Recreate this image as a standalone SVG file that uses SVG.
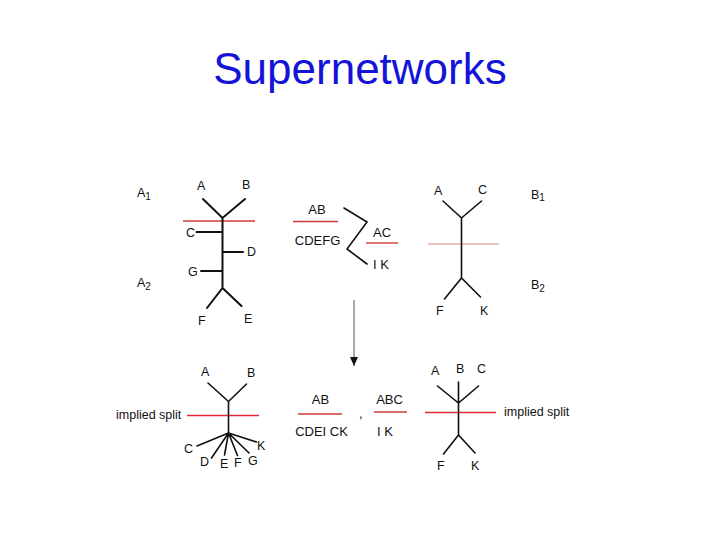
<svg xmlns="http://www.w3.org/2000/svg" width="720" height="540" viewBox="0 0 720 540">
<style>
.t{font-family:"Liberation Sans",Arial,sans-serif;font-size:12.5px;fill:#111}
.m{font-family:"Liberation Sans",Arial,sans-serif;font-size:13px;fill:#111}
.e{stroke:#111;stroke-width:1.6;fill:none;stroke-linecap:round}
.thick{stroke-width:2}
.red{stroke:#d03a3a;stroke-width:1.4}
.pink{stroke:#d88888;stroke-width:1.2}
.bred{stroke:#e02a35;stroke-width:1.6}
</style>
<defs>
<marker id="ah" markerWidth="9" markerHeight="8" refX="9" refY="4" orient="auto" markerUnits="userSpaceOnUse" viewBox="0 0 9 8">
<path d="M0,0 L9,4 L0,8 Z" fill="#111"/>
</marker>
</defs>
<rect width="720" height="540" fill="#fff"/>
<text x="360" y="84" text-anchor="middle" font-family="Liberation Sans,Arial,sans-serif" font-size="44" fill="#1414d8">Supernetworks</text>

<g id="tree-a">
<text class="t" x="137" y="197">A<tspan font-size="10" dy="3">1</tspan></text>
<text class="t" x="137" y="287">A<tspan font-size="10" dy="3">2</tspan></text>
<line class="red" x1="183" y1="221" x2="255" y2="221"/>
<path class="e thick" d="M203,199 L222.5,218 L245,199 M222.5,218 V288 M196.5,232 H222.5 M222.5,252 H243 M201,271 H222.5 M207,308 L222.5,288 L241.5,306"/>
<text class="t" x="197" y="190">A</text>
<text class="t" x="242" y="189">B</text>
<text class="t" x="186" y="237">C</text>
<text class="t" x="247" y="256">D</text>
<text class="t" x="188" y="276">G</text>
<text class="t" x="198" y="325">F</text>
<text class="t" x="244" y="323">E</text>
</g>

<g id="splits-top">
<text class="m" x="317" y="214" text-anchor="middle">AB</text>
<line class="red" x1="293" y1="221.5" x2="338" y2="221.5"/>
<text class="m" x="317.5" y="245" text-anchor="middle">CDEFG</text>
<path class="e" stroke-width="1" d="M344,208 L367,222 L347,249 L367,264"/>
<text class="m" x="382" y="237" text-anchor="middle">AC</text>
<line class="red" x1="366" y1="243" x2="398" y2="243"/>
<text class="m" x="381" y="269" text-anchor="middle">I K</text>
</g>

<g id="tree-b">
<line class="pink" x1="428" y1="244" x2="499" y2="244"/>
<path class="e" d="M443,201 L461.5,218 L481.5,201 M461.5,218 V278 M444.5,299 L461.5,278 L480.5,297"/>
<text class="t" x="434" y="195">A</text>
<text class="t" x="478" y="194">C</text>
<text class="t" x="436" y="315">F</text>
<text class="t" x="480" y="315">K</text>
<text class="t" x="531" y="199">B<tspan font-size="10" dy="2">1</tspan></text>
<text class="t" x="531" y="289">B<tspan font-size="10" dy="3">2</tspan></text>
</g>

<g id="connectors">
<line x1="354" y1="300" x2="354" y2="366" stroke="#555" stroke-width="1" marker-end="url(#ah)"/>
</g>

<g id="tree-merged-a">
<text class="t" x="116" y="419">implied split</text>
<line class="bred" x1="187" y1="415.5" x2="259" y2="415.5"/>
<path class="e" d="M208,383 L228.5,401.5 L246.5,384 M228.5,401.5 V433" />
<path class="e" stroke-width="1.2" d="M228.5,433 L197,446 M228.5,433 L211.5,458 M228.5,433 L224.5,455 M228.5,433 L237.5,455.5 M228.5,433 L249,453 M228.5,433 L256.5,442"/>
<text class="t" x="201" y="376">A</text>
<text class="t" x="247" y="377">B</text>
<text class="t" x="184" y="453">C</text>
<text class="t" x="200" y="466">D</text>
<text class="t" x="220" y="468">E</text>
<text class="t" x="234" y="467">F</text>
<text class="t" x="248" y="465">G</text>
<text class="t" x="257" y="450">K</text>
</g>

<g id="splits-bottom">
<text class="m" x="320.5" y="404" text-anchor="middle">AB</text>
<line class="red" x1="298" y1="414" x2="342" y2="414"/>
<text class="m" x="321.5" y="436" text-anchor="middle">CDEI CK</text>
<text class="m" x="359" y="418">,</text>
<text class="m" x="389.5" y="404" text-anchor="middle">ABC</text>
<line class="red" x1="374" y1="412" x2="407" y2="412"/>
<text class="m" x="385" y="436" text-anchor="middle">I K</text>
</g>

<g id="tree-merged-b">
<line class="bred" x1="425" y1="412.5" x2="496" y2="412.5"/>
<path class="e" d="M437.5,386 L458.5,403 L478.5,386 M458.5,382 V435 M443.5,454 L458.5,435 L475,453"/>
<text class="t" x="431" y="375">A</text>
<text class="t" x="456" y="373">B</text>
<text class="t" x="477" y="373">C</text>
<text class="t" x="437" y="470">F</text>
<text class="t" x="471" y="470">K</text>
<text class="t" x="504" y="416">implied split</text>
</g>
</svg>
